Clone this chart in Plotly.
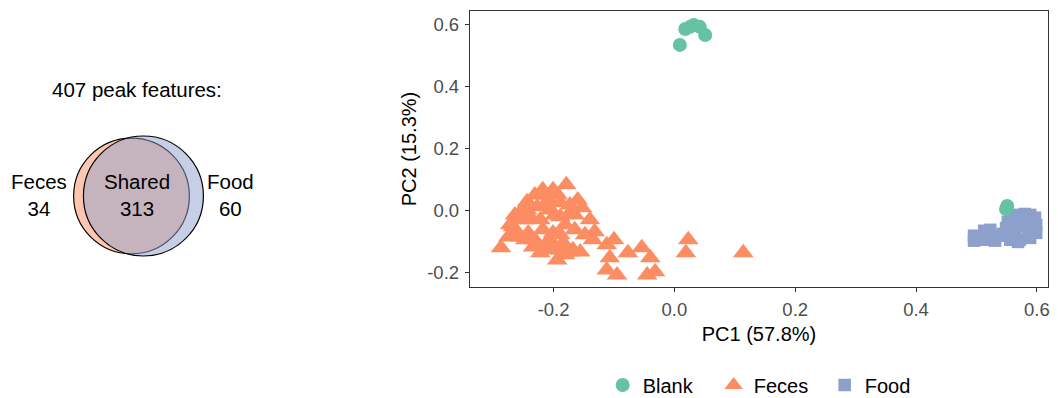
import math
import plotly.graph_objects as go

# ---------------- data ----------------
blank_x = [0.009, 0.018, 0.026, 0.032, 0.042, 0.051, 0.551, 0.549]
blank_y = [0.533, 0.584, 0.591, 0.597, 0.591, 0.565, 0.015, 0.005]

feces_x = [-0.287, -0.179, -0.218, -0.244, -0.267, -0.256, -0.160, -0.153, -0.173, -0.189,
           -0.206, -0.211, -0.194, -0.173, -0.156, -0.132, -0.135, -0.112, -0.100, -0.107,
           -0.112, -0.095, -0.077, -0.054, -0.040, -0.045, -0.032, 0.023, 0.019, 0.114,
           -0.227, -0.239, -0.222, -0.206, -0.189, -0.218, -0.234, -0.242, -0.201, -0.184,
           -0.168, -0.256, -0.209, -0.231, -0.244, -0.261, -0.275, -0.222, -0.189, -0.201,
           -0.272, -0.264, -0.247, -0.239, -0.214, -0.198, -0.181, -0.165, -0.148, -0.231,
           -0.214, -0.198, -0.181, -0.247, -0.264, -0.165, -0.140, -0.189, -0.214, -0.193,
           -0.173]
feces_y = [-0.120, 0.083, 0.067, 0.028, -0.052, -0.085, 0.034, 0.009, -0.007, -0.020,
           -0.094, -0.126, -0.159, -0.133, -0.133, -0.068, -0.094, -0.110, -0.094, -0.152,
           -0.191, -0.207, -0.136, -0.120, -0.152, -0.207, -0.197, -0.094, -0.136, -0.136,
           0.012, -0.020, -0.030, 0.002, 0.025, -0.062, -0.117, -0.072, -0.072, -0.104,
           -0.126, -0.007, 0.034, 0.050, 0.002, -0.030, -0.085, -0.136, -0.126, 0.067,
           -0.046, -0.014, -0.030, 0.018, 0.018, -0.014, -0.046, -0.062, -0.078, -0.094,
           -0.110, -0.126, -0.142, -0.094, -0.068, -0.014, -0.030, -0.078, 0.050, 0.050,
           0.018]

food_x = [0.496, 0.496, 0.511, 0.514, 0.523, 0.531, 0.537, 0.544, 0.549, 0.513,
          0.523, 0.552, 0.559, 0.569, 0.580, 0.589, 0.597, 0.599, 0.599, 0.589,
          0.572, 0.559, 0.564, 0.579, 0.585, 0.575, 0.556, 0.569]
food_y = [-0.097, -0.081, -0.094, -0.078, -0.088, -0.097, -0.081, -0.075, -0.056, -0.065,
          -0.062, -0.036, -0.023, -0.014, -0.011, -0.014, -0.023, -0.046, -0.072, -0.088,
          -0.094, -0.081, -0.056, -0.049, -0.062, -0.030, -0.094, -0.101]

x_ticks = [-0.2, 0.0, 0.2, 0.4, 0.6]
x_tick_labels = ["-0.2", "0.0", "0.2", "0.4", "0.6"]
y_ticks = [-0.2, 0.0, 0.2, 0.4, 0.6]
y_tick_labels = ["-0.2", "0.0", "0.2", "0.4", "0.6"]

venn_labels = ["Feces", "Shared", "Food"]
venn_counts = [34, 313, 60]
venn_total = 407

COL_BLANK = "#66C2A5"
COL_FECES = "#FC8D62"
COL_FOOD = "#8DA0CB"

# ---------------- venn geometry (area proportional) ----------------
n_feces = venn_counts[0] + venn_counts[1]
n_food = venn_counts[2] + venn_counts[1]
r1 = math.sqrt(n_feces / math.pi)
r2 = math.sqrt(n_food / math.pi)


def lens_area(d, a, b):
    if d >= a + b:
        return 0.0
    if d <= abs(a - b):
        return math.pi * min(a, b) ** 2
    p1 = a * a * math.acos((d * d + a * a - b * b) / (2 * d * a))
    p2 = b * b * math.acos((d * d + b * b - a * a) / (2 * d * b))
    p3 = 0.5 * math.sqrt((-d + a + b) * (d + a - b) * (d - a + b) * (d + a + b))
    return p1 + p2 - p3


lo, hi = abs(r1 - r2), r1 + r2
for _ in range(100):
    mid = (lo + hi) / 2
    if lens_area(mid, r1, r2) > venn_counts[1]:
        lo = mid
    else:
        hi = mid
dist = (lo + hi) / 2
c1 = 0.0
c2 = dist

W, H = 1058, 398
scale = 60.0 / r2  # px per venn unit
venn_px_w = 290
cx_px, cy_px = 131.5, 196

fig = go.Figure()

fig.add_trace(go.Scatter(x=feces_x, y=feces_y, mode="markers", name="Feces", legendrank=2,
                         marker=dict(symbol="triangle-up", size=18, color=COL_FECES, line=dict(width=0)),
                         xaxis="x", yaxis="y"))
fig.add_trace(go.Scatter(x=food_x, y=food_y, mode="markers", name="Food", legendrank=3,
                         marker=dict(symbol="square", size=12.5, color=COL_FOOD, line=dict(width=0)),
                         xaxis="x", yaxis="y"))
fig.add_trace(go.Scatter(x=blank_x, y=blank_y, mode="markers", name="Blank", legendrank=1,
                         marker=dict(symbol="circle", size=14, color=COL_BLANK, line=dict(width=0)),
                         xaxis="x", yaxis="y"))

shapes = [
    dict(type="circle", xref="x2", yref="y2", x0=c1 - r1, x1=c1 + r1, y0=-r1, y1=r1,
         fillcolor="rgba(252,141,98,0.5)", line=dict(color="black", width=1.2), layer="above"),
    dict(type="circle", xref="x2", yref="y2", x0=c2 - r2, x1=c2 + r2, y0=-r2, y1=r2,
         fillcolor="rgba(141,160,203,0.5)", line=dict(color="black", width=1.2), layer="above"),
]

vfont = dict(family="Liberation Sans, Arial, sans-serif", size=20.5, color="black")
annotations = [
    dict(xref="x2", yref="y2", x=c1 - r1 - 0.9, y=0.2, xanchor="right", yanchor="middle",
         text=f"{venn_labels[0]}<br>{venn_counts[0]}", showarrow=False, font=vfont, align="center"),
    dict(xref="x2", yref="y2", x=(c1 + c2) / 2, y=0.2, xanchor="center", yanchor="middle",
         text=f"{venn_labels[1]}<br>{venn_counts[1]}", showarrow=False, font=vfont, align="center"),
    dict(xref="x2", yref="y2", x=c2 + r2 + 0.2, y=0.2, xanchor="left", yanchor="middle",
         text=f"{venn_labels[2]}<br>{venn_counts[2]}", showarrow=False, font=vfont, align="center"),
    dict(xref="x2", yref="y2", x=(c1 + c2) / 2, y=r2 + 8.4, xanchor="center", yanchor="middle",
         text=f"{venn_total} peak features:", showarrow=False, font=vfont),
]

axis_col = "#333333"
tickfont = dict(family="Liberation Sans, Arial, sans-serif", size=18.5, color="#4D4D4D")
titlefont = dict(family="Liberation Sans, Arial, sans-serif", size=20, color="black")

fig.update_layout(
    width=W, height=H,
    margin=dict(l=0, r=0, t=0, b=0, autoexpand=False),
    paper_bgcolor="white", plot_bgcolor="white",
    font=dict(family="Liberation Sans, Arial, sans-serif"),
    xaxis=dict(domain=[470 / W, 1048 / W], range=[-0.3384, 0.6185],
               tickvals=x_ticks, ticktext=x_tick_labels, tickfont=tickfont,
               showline=True, mirror=True, linecolor=axis_col, linewidth=1.4,
               ticks="outside", ticklen=4, tickcolor=axis_col, tickwidth=1.4,
               showgrid=False, zeroline=False, ticklabelstandoff=2, automargin=False,
               title=dict(text="PC1 (57.8%)", font=titlefont, standoff=7)),
    yaxis=dict(domain=[1 - 287 / H, 1 - 11 / H], range=[-0.246, 0.642],
               tickvals=y_ticks, ticktext=y_tick_labels, tickfont=tickfont,
               showline=True, mirror=True, linecolor=axis_col, linewidth=1.4,
               ticks="outside", ticklen=4, tickcolor=axis_col, tickwidth=1.4,
               showgrid=False, zeroline=False, ticklabelstandoff=2, automargin=False,
               title=dict(text="PC2 (15.3%)", font=titlefont, standoff=5)),
    xaxis2=dict(domain=[0, venn_px_w / W], range=[-cx_px / scale, (venn_px_w - cx_px) / scale],
                visible=False, fixedrange=True, automargin=False),
    yaxis2=dict(domain=[0, 1], range=[-(H - cy_px) / scale, cy_px / scale],
                visible=False, fixedrange=True, anchor="x2", automargin=False),
    shapes=shapes,
    annotations=annotations,
    showlegend=True,
    legend=dict(orientation="h", x=0.727, xanchor="center", y=1 - 385 / H, yanchor="middle",
                font=dict(family="Liberation Sans, Arial, sans-serif", size=20, color="black"),
                itemwidth=30, tracegroupgap=0, entrywidth=66, entrywidthmode="pixels"),
)
fig.layout.xaxis2.anchor = "y2"

fig.write_html("out.html")
